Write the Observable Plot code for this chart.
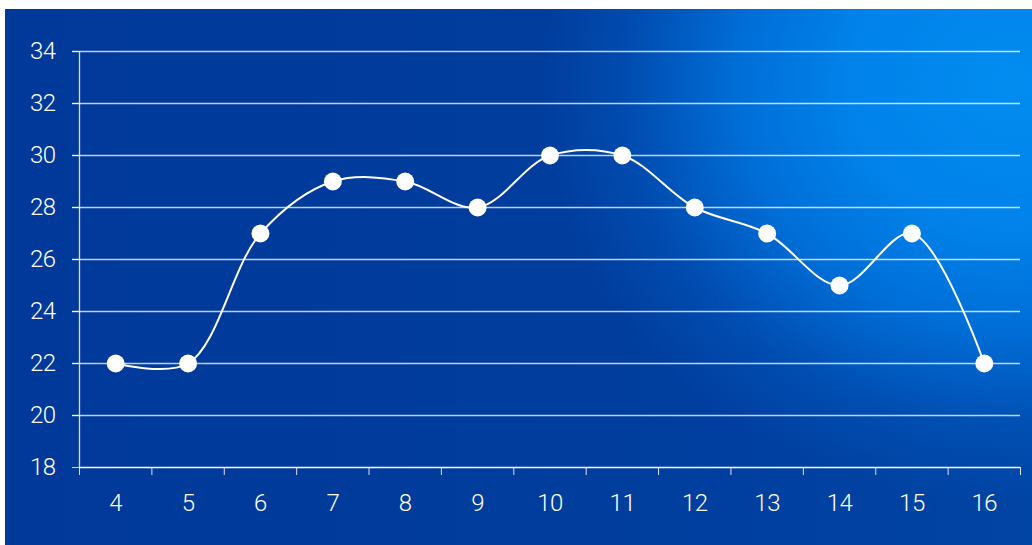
<!DOCTYPE html>
<html>
<head>
<meta charset="utf-8">
<script src="https://cdn.jsdelivr.net/npm/d3@7"></script>
<script src="https://cdn.jsdelivr.net/npm/@observablehq/plot@0.6"></script>
<style>
  html, body { margin: 0; padding: 0; background: #ffffff; }
  #wrap {
    position: absolute; left: 5px; top: 9px; width: 1027px; height: 536px;
    background:
      radial-gradient(ellipse 46% 78% at 98% 14%, rgba(2,140,240,1) 0%, rgba(0,132,236,0.97) 35%, rgba(0,118,225,0.85) 58%, rgba(0,95,200,0.4) 82%, rgba(0,70,165,0) 100%),
      linear-gradient(90deg, #00399a 0%, #003d9d 55%, #0044a4 100%);
  }
  #wrap svg { display: block; }
  #wrap svg text { font-family: Roboto, "DejaVu Sans", sans-serif !important; font-size: 24px !important; font-weight: 300 !important; letter-spacing: -0.5px; }
</style>
</head>
<body>
<div id="wrap"></div>
<script>
const categories = [4, 5, 6, 7, 8, 9, 10, 11, 12, 13, 14, 15, 16];
const values = [22, 22, 27, 29, 29, 28, 30, 30, 28, 27, 25, 27, 22];
const yTicks = [18, 20, 22, 24, 26, 28, 30, 32, 34];
const gridTicks = [20, 22, 24, 26, 28, 30, 32, 34];

const data = categories.map((c, i) => ({x: c, y: values[i]}));
const boundaries = d3.range(categories[0] - 0.5, categories[categories.length - 1] + 1, 1);
const font = "Roboto, 'DejaVu Sans', sans-serif";

const chart = Plot.plot({
  width: 1027,
  height: 536,
  marginLeft: 74,
  marginRight: 12,
  marginTop: 42,
  marginBottom: 78,
  style: {background: "transparent", color: "white", fontFamily: font, fontSize: "24px", fontWeight: 300},
  x: {type: "linear", domain: [categories[0] - 0.5, categories[categories.length - 1] + 0.5]},
  y: {domain: [18, 34]},
  marks: [
    Plot.ruleY(gridTicks, {stroke: "white", strokeOpacity: 0.75, strokeWidth: 1.3, insetLeft: -7}),
    Plot.axisY(yTicks, {tickSize: 7, tickPadding: 17, stroke: "white", strokeOpacity: 0.8, fill: "white", label: null, fontSize: 24}),
    Plot.axisX(boundaries, {tickSize: 8, tickFormat: () => "", stroke: "white", strokeOpacity: 0.85, label: null}),
    Plot.axisX(categories, {tickSize: 0, tickPadding: 26, fill: "white", label: null, fontSize: 24}),
    Plot.ruleY([18], {stroke: "white", strokeWidth: 1.5}),
    Plot.ruleX([categories[0] - 0.5], {stroke: "white", strokeOpacity: 0.85, strokeWidth: 1.3}),
    Plot.line(data, {x: "x", y: "y", curve: "catmull-rom", stroke: "white", strokeWidth: 2}),
    Plot.dot(data, {x: "x", y: "y", r: 9, fill: "white", stroke: "none"})
  ]
});
document.getElementById("wrap").appendChild(chart);
</script>
</body>
</html>
